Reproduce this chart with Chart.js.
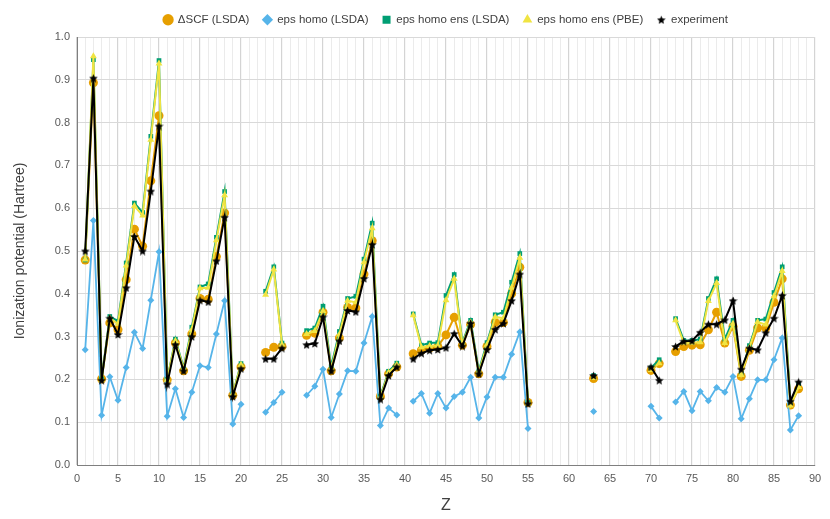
<!DOCTYPE html>
<html>
<head>
<meta charset="utf-8">
<script src="https://cdn.jsdelivr.net/npm/chart.js@4.4.0/dist/chart.umd.min.js"></script>
<style>
  html, body { margin: 0; padding: 0; background: #fff; }
  #wrap { width: 830px; height: 519px; }
</style>
</head>
<body>
<div id="wrap"><canvas id="graph"></canvas></div>
<script>
// atomic number Z = 1..88, null where there is no value
var zValues = [];
for (var i = 1; i <= 88; i++) zValues.push(i);

var deltaScf = [
  0.479, 0.893, 0.201, 0.332, 0.316, 0.433, 0.551, 0.511, 0.664, 0.816,
  0.199, 0.285, 0.220, 0.306, 0.389, 0.387, 0.487, 0.589, 0.163, 0.229,
  null, null, 0.263, 0.275, 0.277, null, null, 0.303, 0.308, 0.357,
  0.220, 0.297, 0.368, 0.367, 0.446, 0.524, 0.160, 0.213, 0.229, null,
  0.260, 0.268, 0.273, 0.277, 0.304, 0.345, 0.280, 0.328, 0.213, 0.277,
  0.333, 0.333, 0.400, 0.462, 0.146, null, null, null, null, null,
  null, null, 0.202, null, null, null, null, null, null, 0.221,
  0.237, null, 0.265, 0.277, 0.280, 0.281, 0.316, 0.357, 0.285, 0.324,
  0.207, 0.268, 0.320, 0.320, 0.380, 0.435, 0.140, 0.178
];

var epsHomo = [
  0.269, 0.571, 0.116, 0.206, 0.151, 0.228, 0.310, 0.272, 0.385, 0.498,
  0.114, 0.178, 0.111, 0.170, 0.232, 0.228, 0.306, 0.384, 0.096, 0.142,
  null, null, 0.123, 0.146, 0.170, null, null, 0.163, 0.184, 0.224,
  0.111, 0.166, 0.220, 0.219, 0.285, 0.347, 0.092, 0.133, 0.117, null,
  0.149, 0.167, 0.121, 0.167, 0.133, 0.160, 0.170, 0.205, 0.110, 0.159,
  0.205, 0.205, 0.259, 0.311, 0.085, null, null, null, null, null,
  null, null, 0.125, null, null, null, null, null, null, 0.137,
  0.110, null, 0.147, 0.172, 0.127, 0.172, 0.150, 0.181, 0.170, 0.207,
  0.108, 0.155, 0.199, 0.199, 0.246, 0.297, 0.082, 0.115
];

var epsHomoEnsLsda = [
  0.479, 0.947, 0.201, 0.347, 0.336, 0.472, 0.612, 0.590, 0.768, 0.945,
  0.200, 0.294, 0.227, 0.322, 0.416, 0.423, 0.532, 0.639, 0.166, 0.237,
  null, null, 0.406, 0.463, 0.285, null, null, 0.314, 0.320, 0.371,
  0.230, 0.312, 0.389, 0.394, 0.481, 0.565, 0.161, 0.219, 0.238, null,
  0.353, 0.280, 0.285, 0.286, 0.396, 0.445, 0.286, 0.338, 0.220, 0.286,
  0.351, 0.357, 0.427, 0.494, 0.146, null, null, null, null, null,
  null, null, 0.209, null, null, null, null, null, null, 0.227,
  0.246, null, 0.342, 0.291, 0.291, 0.294, 0.389, 0.435, 0.294, 0.338,
  0.215, 0.279, 0.338, 0.341, 0.403, 0.463, 0.145, 0.190
];

var epsHomoEnsPbe = [
  0.480, 0.955, 0.199, 0.343, 0.330, 0.466, 0.605, 0.583, 0.760, 0.938,
  0.199, 0.290, 0.224, 0.316, 0.413, 0.414, 0.525, 0.630, 0.166, 0.234,
  null, null, 0.398, 0.457, 0.281, null, null, 0.306, 0.313, 0.360,
  0.224, 0.305, 0.384, 0.380, 0.474, 0.553, 0.158, 0.216, 0.234, null,
  0.350, 0.275, 0.278, 0.279, 0.385, 0.435, 0.283, 0.333, 0.216, 0.281,
  0.346, 0.343, 0.414, 0.484, 0.143, null, null, null, null, null,
  null, null, 0.203, null, null, null, null, null, null, 0.222,
  0.238, null, 0.338, 0.285, 0.285, 0.287, 0.383, 0.425, 0.285, 0.330,
  0.210, 0.274, 0.334, 0.328, 0.394, 0.453, 0.139, 0.182
];

var experiment = [
  0.500, 0.904, 0.198, 0.343, 0.305, 0.414, 0.534, 0.500, 0.640, 0.792,
  0.189, 0.281, 0.220, 0.300, 0.385, 0.381, 0.477, 0.579, 0.160, 0.225,
  null, null, 0.248, 0.248, 0.273, null, null, 0.281, 0.284, 0.346,
  0.220, 0.290, 0.361, 0.358, 0.436, 0.515, 0.154, 0.209, 0.229, null,
  0.248, 0.261, 0.268, 0.270, 0.274, 0.307, 0.278, 0.331, 0.213, 0.270,
  0.317, 0.331, 0.384, 0.446, 0.143, null, null, null, null, null,
  null, null, 0.209, null, null, null, null, null, null, 0.229,
  0.198, null, 0.277, 0.289, 0.290, 0.310, 0.329, 0.329, 0.339, 0.384,
  0.224, 0.273, 0.269, 0.309, 0.343, 0.396, 0.149, 0.194
];

var yTicks = [0, 0.1, 0.2, 0.3, 0.4, 0.5, 0.6, 0.7, 0.8, 0.9, 1.0];

function toPoints(values) {
  return zValues.map(function (z, i) {
    return { x: z, y: values[i] };
  });
}

// filled five-point star used as marker for the experiment series
function makeStar(size, color) {
  var c = document.createElement('canvas');
  c.width = size; c.height = size;
  var g = c.getContext('2d');
  var cx = size / 2, cy = size / 2 + 0.5, ro = size / 2, ri = ro * 0.45;
  g.beginPath();
  for (var k = 0; k < 10; k++) {
    var r = k % 2 === 0 ? ro : ri;
    var a = -Math.PI / 2 + k * Math.PI / 5;
    g.lineTo(cx + r * Math.cos(a), cy + r * Math.sin(a));
  }
  g.closePath();
  g.fillStyle = color;
  g.fill();
  return c;
}
var starIcon = makeStar(9, '#000000');

function series(label, values, color, style, radius, lineWidth, order) {
  return {
    label: label,
    data: toPoints(values),
    borderColor: color,
    backgroundColor: color,
    pointBackgroundColor: color,
    pointBorderColor: color,
    pointBorderWidth: 0,
    pointStyle: style,
    pointRadius: radius,
    borderWidth: lineWidth,
    spanGaps: false,
    order: order
  };
}

var datasets = [
  series('\u0394SCF (LSDA)', deltaScf, '#E69F00', 'circle', 4.5, 2, 5),
  series('eps homo (LSDA)', epsHomo, '#56B4E9', 'rectRot', 3.5, 1.8, 4),
  series('eps homo ens (LSDA)', epsHomoEnsLsda, '#009E73', 'rect', 3.3, 2, 3),
  series('eps homo ens (PBE)', epsHomoEnsPbe, '#F0E442', 'triangle', 4, 2, 2),
  series('experiment', experiment, '#000000', starIcon, 4.5, 2, 1)
];

// legend: fixed height, centred over the plot area
var legendPlace = {
  id: 'legendPlace',
  beforeLayout: function (chart) {
    var lg = chart.legend;
    if (lg && !lg._fixed) {
      var fit = lg.fit;
      lg.fit = function () { fit.call(this); this.height = 37; };
      lg._fixed = true;
    }
  },
  afterLayout: function (chart) {
    if (chart.legend) {
      chart.legend.left = chart.chartArea.left;
      chart.legend.right = chart.chartArea.right;
    }
  }
};

var ctx = document.getElementById('graph').getContext('2d');
var chart = new Chart(ctx, {
  type: 'line',
  data: { datasets: datasets },
  plugins: [legendPlace],
  options: {
    responsive: true,
    maintainAspectRatio: false,
    animation: false,
    layout: { padding: { left: 0, right: 15, top: 0, bottom: 0 } },
    plugins: {
      tooltip: { enabled: false },
      legend: {
        position: 'top',
        reverse: true,
        labels: {
          usePointStyle: true,
          boxWidth: 8,
          boxHeight: 8,
          padding: 14,
          color: '#404040',
          font: { family: 'Liberation Sans, Arial, sans-serif', size: 11.5 }
        }
      }
    },
    scales: {
      x: {
        type: 'linear',
        min: 0,
        max: 90,
        afterFit: function (scale) { scale.height = 54; },
        border: { color: '#7f7f7f', width: 1 },
        grid: {
          drawTicks: false,
          color: function (c) {
            return c.tick && c.tick.value % 5 === 0 ? '#d4d4d4' : '#ebebeb';
          },
          lineWidth: function (c) {
            return c.tick && c.tick.value % 5 === 0 ? 1.2 : 1;
          }
        },
        ticks: {
          stepSize: 1,
          autoSkip: false,
          maxRotation: 0,
          padding: 7,
          color: '#595959',
          font: { family: 'Liberation Sans, Arial, sans-serif', size: 11 },
          callback: function (v) { return v % 5 === 0 ? String(v) : ''; }
        },
        title: {
          display: true,
          text: 'Z',
          color: '#404040',
          padding: { top: 0, bottom: 4 },
          font: { family: 'Liberation Sans, Arial, sans-serif', size: 16 }
        }
      },
      y: {
        min: 0,
        max: 1.0,
        afterFit: function (scale) { scale.width = 77; },
        afterBuildTicks: function (scale) {
          scale.ticks = yTicks.map(function (v) { return { value: v }; });
        },
        border: { color: '#7f7f7f', width: 1 },
        grid: { drawTicks: false, color: '#d9d9d9' },
        ticks: {
          padding: 7,
          color: '#595959',
          font: { family: 'Liberation Sans, Arial, sans-serif', size: 11 },
          callback: function (v) { return Number(v).toFixed(1); }
        },
        title: {
          display: true,
          text: 'Ionization potential (Hartree)',
          color: '#404040',
          padding: { top: 12, bottom: 0 },
          font: { family: 'Liberation Sans, Arial, sans-serif', size: 14 }
        }
      }
    }
  }
});
</script>
</body>
</html>
